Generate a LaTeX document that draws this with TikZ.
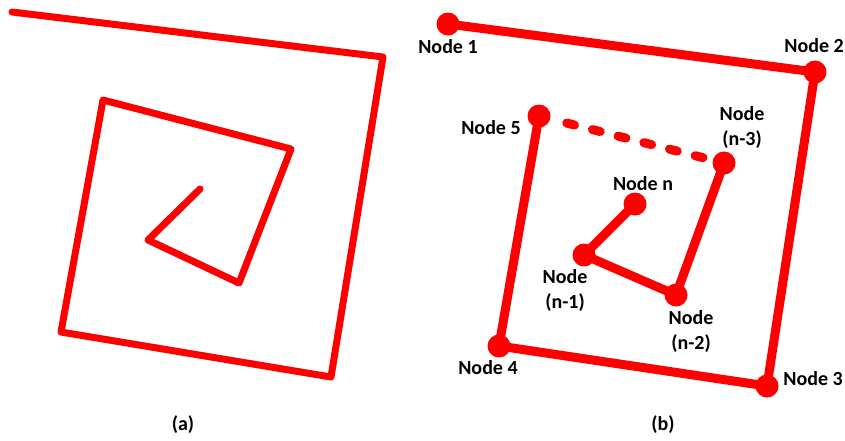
\documentclass[tikz,border=0pt]{standalone}
\usepackage{fontspec}
\setmainfont{Carlito}
\usetikzlibrary{calc}
\begin{document}
\begin{tikzpicture}[x=1pt,y=-1pt,
  wire/.style={draw=red, line width=7pt, line cap=round, line join=round},
  link/.style={draw=red, line width=9pt, line cap=round, line join=round},
  dot/.style={circle, fill=red, minimum size=23pt, inner sep=0pt},
  lbl/.style={font=\fontsize{20}{25}\selectfont\bfseries, align=center, inner sep=0pt},
  dashlink/.style={draw=red, line width=9pt, line cap=round, dash pattern=on 8pt off 18.5pt}]
\useasboundingbox (0,0) rectangle (845,440);
% panel (a)
\coordinate (a1) at (12,12);
\coordinate (a2) at (383,57);
\coordinate (a3) at (331,377);
\coordinate (a4) at (61,332);
\coordinate (a5) at (103,100);
\coordinate (a6) at (291,149);
\coordinate (a7) at (239,283);
\coordinate (a8) at (148,240);
\coordinate (a9) at (200,189);
\draw[wire] (a1) -- (a2) -- (a3) -- (a4) -- (a5) -- (a6) -- (a7) -- (a8) -- (a9);
\node[lbl] (la) at (183,425) {(a)};
% panel (b)
\node[dot] (n1) at (448,24) {};
\node[dot] (n2) at (815,72) {};
\node[dot] (n3) at (767,386) {};
\node[dot] (n4) at (499,346) {};
\node[dot] (n5) at (539,116) {};
\node[dot] (nn3) at (724,163) {};
\node[dot] (nn2) at (676,295) {};
\node[dot] (nn1) at (584,255) {};
\node[dot] (nn) at (635,204) {};
\draw[link] (n1.center) -- (n2.center) -- (n3.center) -- (n4.center) -- (n5.center);
\draw[link] (nn3.center) -- (nn2.center) -- (nn1.center) -- (nn.center);
\coordinate (ds) at ($(n5.center)!0.15!(nn3.center)$);
\coordinate (de) at ($(n5.center)!0.90!(nn3.center)$);
\draw[dashlink] (ds) -- (de);
\node[lbl] (l1) at (448,47) {Node 1};
\node[lbl] (l2) at (814,46) {Node 2};
\node[lbl] (l3) at (813,379) {Node 3};
\node[lbl] (l4) at (488,368) {Node 4};
\node[lbl] (l5) at (491,128) {Node 5};
\node[lbl] (ln3) at (742,127) {Node\\(n-3)};
\node[lbl] (ln2) at (691,331) {Node\\(n-2)};
\node[lbl] (ln1) at (565,290) {Node\\(n-1)};
\node[lbl] (lnn) at (643,184) {Node n};
\node[lbl] (lb) at (663,425) {(b)};
\end{tikzpicture}
\end{document}
